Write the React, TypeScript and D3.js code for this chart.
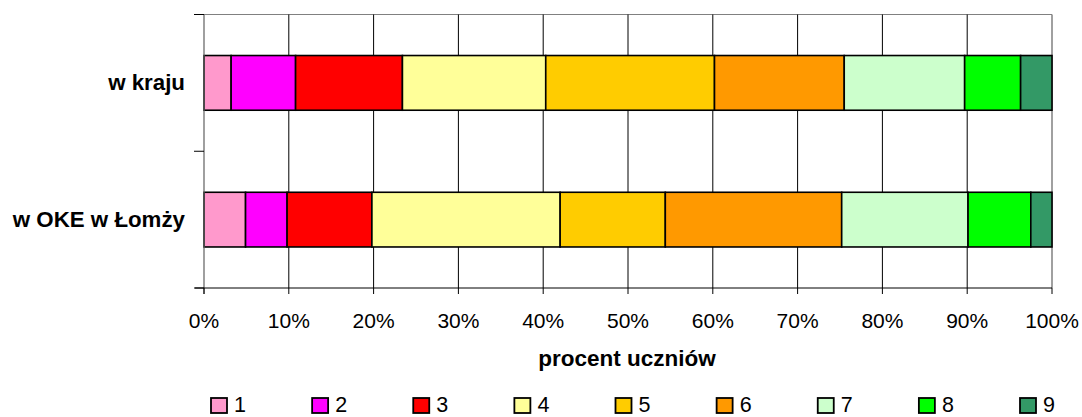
import React from "react";
import * as d3 from "d3";

const categories = ["w kraju", "w OKE w Łomży"];
const seriesNames = ["1", "2", "3", "4", "5", "6", "7", "8", "9"];
const seriesColors = ["#FF99CC", "#FF00FF", "#FF0000", "#FFFF99", "#FFCC00", "#FF9900", "#CCFFCC", "#00FF00", "#339966"];
const valuesKraj = [3.2, 7.6, 12.6, 16.9, 19.9, 15.3, 14.2, 6.6, 3.7];
const valuesLomza = [4.9, 4.9, 10.0, 22.2, 12.4, 20.8, 14.9, 7.4, 2.5];
const xTicks = [0, 10, 20, 30, 40, 50, 60, 70, 80, 90, 100];
const xTitle = "procent uczniów";

const W = 1082;
const H = 417;
const M = { left: 204, right: 1052, top: 14.5, bottom: 288 };
const FONT = "'Liberation Sans', Arial, Helvetica, sans-serif";

export default function App() {
  const x = d3.scaleLinear().domain([0, 100]).range([M.left, M.right]);
  const y = d3.scaleBand<string>().domain(categories).range([M.top, M.bottom]).paddingInner(0.6).paddingOuter(0.3);
  const rows = [valuesKraj, valuesLomza];
  const stacked = rows.map((vals) => {
    let acc = 0;
    return vals.map((v, i) => {
      const s = { x0: acc, x1: acc + v, i };
      acc += v;
      return s;
    });
  });
  const step = (M.bottom - M.top) / categories.length;
  const legendX = d3.scaleLinear().domain([0, 8]).range([211, 1020]);

  return (
    <svg width={W} height={H} style={{ position: "absolute", left: 0, top: 0, background: "#fff" }} fontFamily={FONT}>
      {/* plot borders */}
      <line x1={M.left} x2={M.right} y1={M.top} y2={M.top} stroke="#808080" strokeWidth={1} />
      <line x1={M.right} x2={M.right} y1={M.top} y2={M.bottom} stroke="#808080" strokeWidth={1.5} />
      {/* vertical grid */}
      {xTicks.slice(1, -1).map((t) => (
        <line key={"g" + t} x1={x(t)} x2={x(t)} y1={M.top} y2={M.bottom} stroke="#000" strokeWidth={1} />
      ))}
      {/* bars */}
      {stacked.map((segs, r) =>
        segs.map((s) => (
          <rect
            key={r + "-" + s.i}
            x={x(s.x0)}
            y={y(categories[r])!}
            width={x(s.x1) - x(s.x0)}
            height={y.bandwidth()}
            fill={seriesColors[s.i]}
            stroke="#000"
            strokeWidth={1.6}
          />
        ))
      )}
      {/* left axis */}
      <line x1={M.left} x2={M.left} y1={M.top} y2={M.bottom + 6} stroke="#606060" strokeWidth={1.2} />
      {[0, 1, 2].map((k) => (
        <line key={"yt" + k} x1={M.left - 10} x2={M.left} y1={M.top + k * step} y2={M.top + k * step} stroke="#000" strokeWidth={1} />
      ))}
      {categories.map((c) => (
        <text
          key={c}
          x={185}
          y={y(c)! + y.bandwidth() / 2}
          textAnchor="end"
          dominantBaseline="central"
          fontWeight="bold"
          fontSize={22.3}
          fill="#000"
        >
          {c}
        </text>
      ))}
      {/* bottom axis */}
      <line x1={M.left - 9} x2={M.right} y1={M.bottom} y2={M.bottom} stroke="#000" strokeWidth={1} />
      {xTicks.map((t) => (
        <g key={"xt" + t}>
          <line x1={x(t)} x2={x(t)} y1={M.bottom} y2={M.bottom + 6} stroke="#000" strokeWidth={1} />
          <text x={x(t)} y={328} textAnchor="middle" fontSize={21} fill="#000">
            {t + "%"}
          </text>
        </g>
      ))}
      <text x={(M.left + M.right) / 2 - 1} y={366} textAnchor="middle" fontWeight="bold" fontSize={22.5} fill="#000">
        {xTitle}
      </text>
      {/* legend */}
      {seriesNames.map((n, i) => (
        <g key={"lg" + n}>
          <rect x={legendX(i)} y={398} width={16} height={15} fill={seriesColors[i]} stroke="#000" strokeWidth={1.8} />
          <text x={legendX(i) + 23} y={412} fontSize={21.5} fill="#000">
            {n}
          </text>
        </g>
      ))}
    </svg>
  );
}
